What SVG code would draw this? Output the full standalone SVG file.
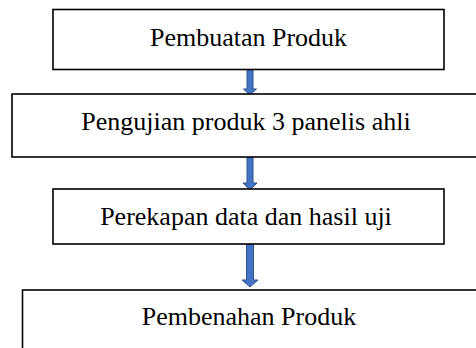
<svg xmlns="http://www.w3.org/2000/svg" width="476" height="348" viewBox="0 0 476 348">
<style>
.box{fill:#fff;stroke:#000;stroke-width:1.6}
.lbl{font-family:"Liberation Serif","Times New Roman",serif;font-size:26px;fill:#000;text-anchor:middle}
.arr{fill:#4472C4;stroke:#2F528F;stroke-width:1}
</style>
<rect width="476" height="348" fill="#fff"/>
<g id="connectors">
<path class="arr" d="M247,69.5 H253 V89 H256.5 L250,95 L243.5,89 H247 Z"/>
<path class="arr" d="M247,157 H253 V183 H257 L250,190 L243,183 H247 Z"/>
<path class="arr" d="M246.5,244 H253.5 V280 H258 L250,287 L242,280 H246.5 Z"/>
</g>
<g id="node1">
<rect class="box" x="53" y="9.5" width="391" height="60"/>
<text class="lbl" x="248.5" y="46">Pembuatan Produk</text>
</g>
<g id="node2">
<rect class="box" x="12" y="94" width="470" height="63"/>
<text class="lbl" x="246" y="130">Pengujian produk 3 panelis ahli</text>
</g>
<g id="node3">
<rect class="box" x="53" y="189" width="391" height="55"/>
<text class="lbl" x="246" y="224.5">Perekapan data dan hasil uji</text>
</g>
<g id="node4">
<rect class="box" x="22.5" y="290" width="470" height="70"/>
<text class="lbl" x="249" y="325">Pembenahan Produk</text>
</g>
</svg>
